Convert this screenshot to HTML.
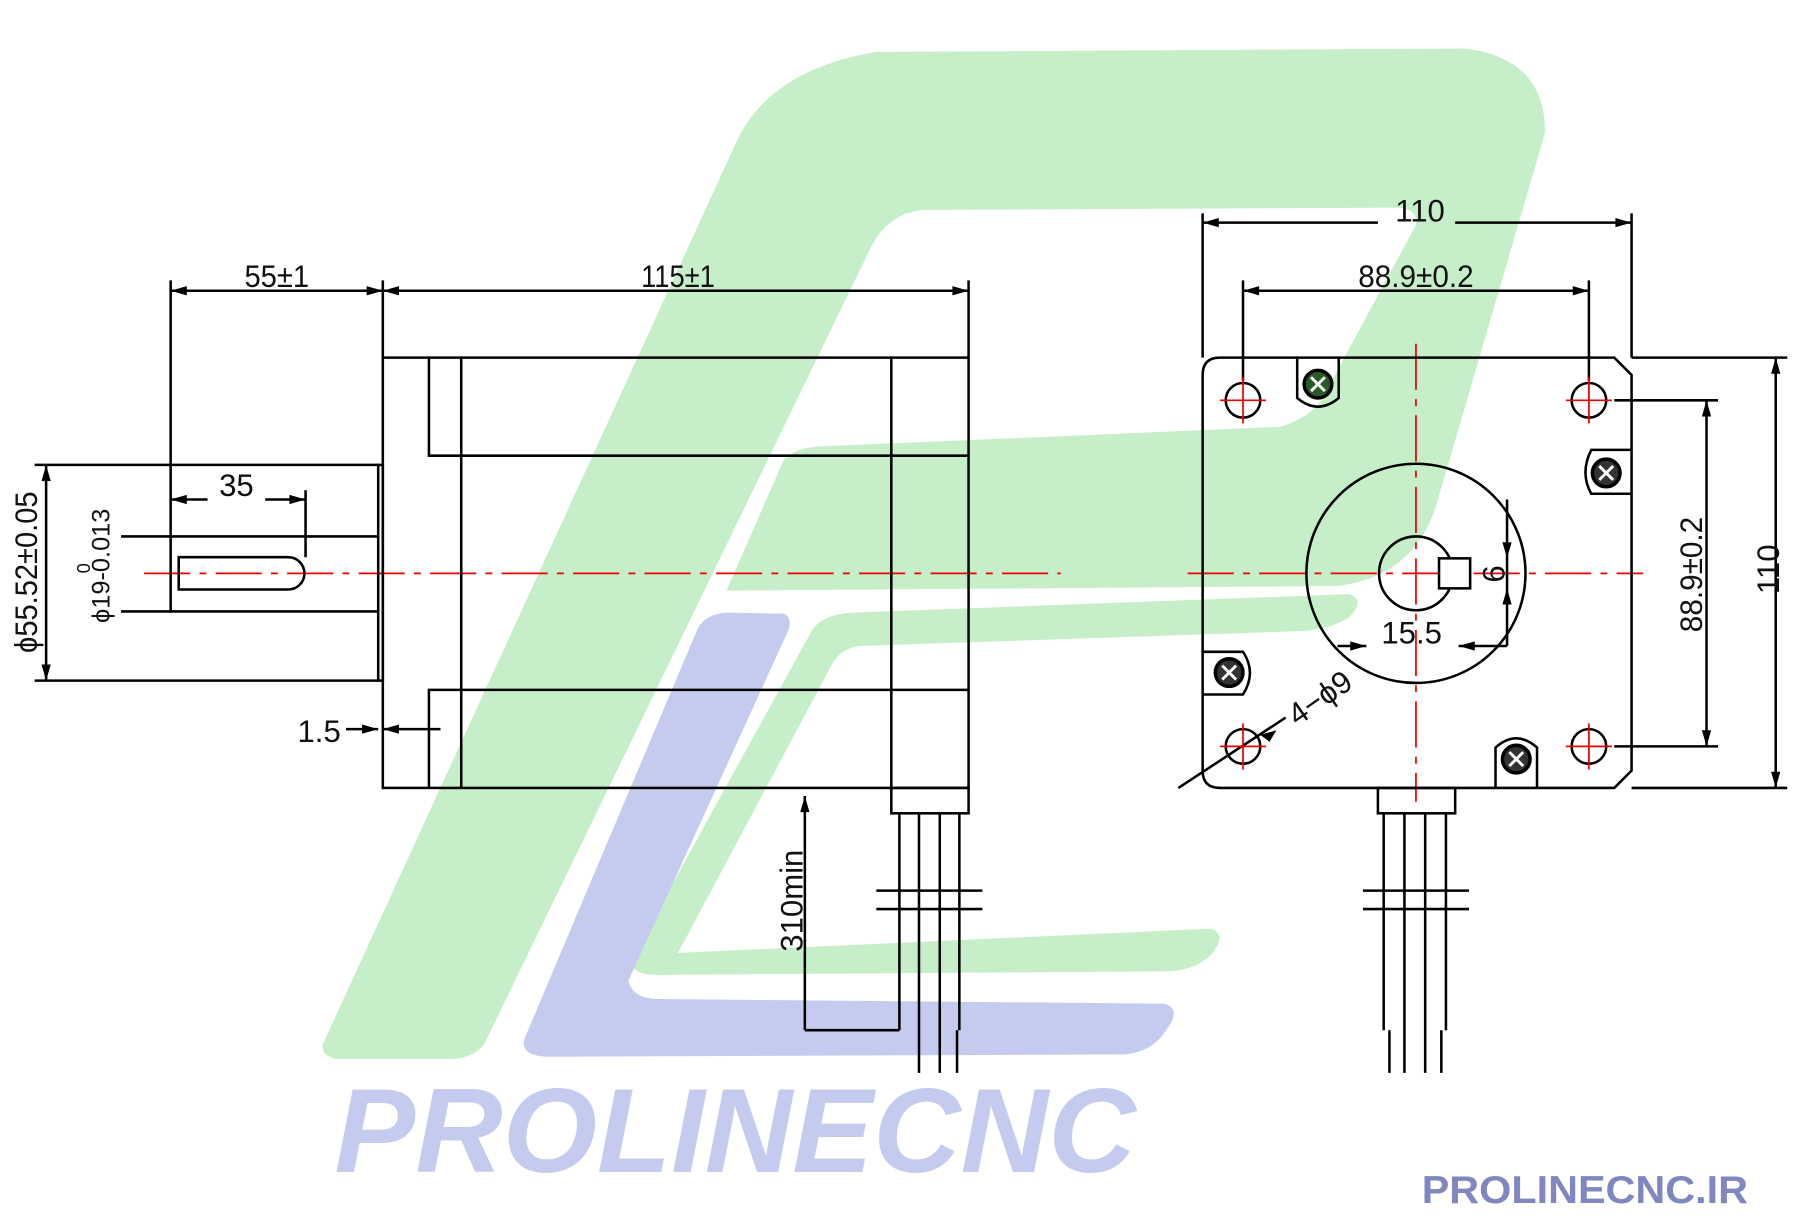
<!DOCTYPE html>
<html><head><meta charset="utf-8"><style>
html,body{margin:0;padding:0;background:#fff;}
svg{display:block;}
text{font-family:"Liberation Sans",sans-serif;}
</style></head><body>
<svg width="1808" height="1224" viewBox="0 0 1568 1061" preserveAspectRatio="none" xmlns="http://www.w3.org/2000/svg">
<rect width="1568" height="1061" fill="#fff"/>
<!-- logo green -->
<path fill="#c6efc9" d="M280 905 L640 120 Q670 60 760 45 L1270 42 Q1340 50 1340 115 L1245 440 Q1225 500 1160 508 L630 512 L680 398 Q690 388 710 387 L1110 370 Q1145 360 1155 330 L1228 195 Q1230 180 1210 180 L800 182 Q770 185 755 215 L420 905 Q410 918 390 918 L292 918 Q278 915 280 905 Z"/>
<path fill="#c6efc9" d="M548 830 L705 545 Q715 532 740 531 L1170 515 Q1185 520 1170 535 Q1155 545 1130 547 L745 560 Q730 562 722 575 L588 826 L1050 805 Q1065 810 1050 828 Q1035 842 1010 842 L570 845 Q545 845 548 830 Z"/>
<!-- logo blue -->
<path fill="#c5cbee" d="M455 900 L605 545 Q612 532 630 531 L680 532 Q688 536 683 548 L545 850 Q548 865 570 866 L1010 870 Q1025 875 1012 892 Q1000 912 975 914 L475 916 Q450 915 455 900 Z"/>
<text x="290" y="1016" font-size="104" font-weight="bold" font-style="italic" fill="#c5cbee" textLength="695" lengthAdjust="spacingAndGlyphs">PROLINECNC</text>
<text x="1233" y="1043" font-size="34" font-weight="bold" fill="#7f86c0" textLength="283" lengthAdjust="spacingAndGlyphs">PROLINECNC.IR</text>

<!-- red centerlines -->
<g stroke="#e00" stroke-width="1.5" stroke-dasharray="40,8,6,8" fill="none">
<line x1="125" y1="497" x2="920" y2="497"/>
<line x1="1030" y1="497" x2="1425" y2="497"/>
<line x1="1228" y1="298" x2="1228" y2="695"/>
</g>

<g stroke="#000" stroke-width="2.2" fill="none">
<!-- left view body -->
<rect x="332" y="310" width="508" height="373"/>
<polyline points="372,310 372,395 840,395"/>
<polyline points="372,683 372,598 840,598"/>
<line x1="400" y1="310" x2="400" y2="683"/>
<line x1="773" y1="310" x2="773" y2="683"/>
<rect x="328" y="403" width="4" height="187"/>
<!-- shaft -->
<polyline points="328,465 148,465 148,530 328,530"/>
<path d="M155 483 L250 483 A14 14 0 0 1 250 511 L155 511 Z"/>
<!-- dims left -->
<line x1="148" y1="243" x2="148" y2="465"/>
<line x1="332" y1="243" x2="332" y2="310"/>
<line x1="840" y1="243" x2="840" y2="310"/>
<line x1="148" y1="252" x2="332" y2="252"/>
<line x1="332" y1="252" x2="840" y2="252"/>
<line x1="265" y1="425" x2="265" y2="483"/>
<line x1="148" y1="433" x2="180" y2="433"/><line x1="230" y1="433" x2="265" y2="433"/>
<line x1="30" y1="403" x2="328" y2="403"/>
<line x1="30" y1="590" x2="328" y2="590"/>
<line x1="40" y1="403" x2="40" y2="590"/>
<line x1="105" y1="465" x2="148" y2="465"/>
<line x1="105" y1="530" x2="148" y2="530"/>
<line x1="300" y1="632" x2="328" y2="632"/><line x1="332" y1="632" x2="382" y2="632"/>
<!-- 310min -->
<line x1="698" y1="690" x2="698" y2="893"/>
<line x1="698" y1="893" x2="780" y2="893"/>
<!-- left cable -->
<rect x="773" y="683" width="67" height="22"/>
<line x1="780" y1="705" x2="780" y2="893"/>
<line x1="797" y1="705" x2="797" y2="930"/>
<line x1="815" y1="705" x2="815" y2="930"/>
<line x1="832" y1="705" x2="832" y2="893"/>
<line x1="830" y1="893" x2="830" y2="930"/>
<line x1="760" y1="772" x2="852" y2="772"/>
<line x1="760" y1="788" x2="852" y2="788"/>

<!-- right view -->
<path d="M1058 310 L1400 310 L1415 325 L1415 668 L1400 683 L1058 683 Q1043 683 1043 668 L1043 325 Q1043 310 1058 310 Z"/>
<line x1="1415" y1="310" x2="1550" y2="310"/>
<line x1="1415" y1="683" x2="1550" y2="683"/>
<line x1="1540" y1="310" x2="1540" y2="683"/>
<line x1="1400" y1="347" x2="1490" y2="347"/>
<line x1="1400" y1="647" x2="1490" y2="647"/>
<line x1="1480" y1="347" x2="1480" y2="647"/>
<line x1="1043" y1="185" x2="1043" y2="310"/>
<line x1="1415" y1="185" x2="1415" y2="310"/>
<line x1="1043" y1="193" x2="1195" y2="193"/><line x1="1262" y1="193" x2="1415" y2="193"/>
<line x1="1078" y1="243" x2="1078" y2="330"/>
<line x1="1378" y1="243" x2="1378" y2="330"/>
<line x1="1078" y1="252" x2="1378" y2="252"/>
<circle cx="1228" cy="497" r="95"/>
<circle cx="1228" cy="497" r="32"/>
<rect x="1248" y="484" width="27" height="26" fill="#fff"/>
<line x1="1307" y1="433" x2="1307" y2="560"/>
<line x1="1160" y1="560" x2="1185" y2="560"/><line x1="1265" y1="560" x2="1307" y2="560"/>
<line x1="1022" y1="683" x2="1115" y2="622"/>
<circle cx="1078" cy="347" r="15"/><circle cx="1378" cy="347" r="15"/>
<circle cx="1078" cy="647" r="15"/><circle cx="1378" cy="647" r="15"/>
<!-- screw mounts -->
<path d="M1125 310 L1125 345 Q1143 360 1161 345 L1161 310"/>
<path d="M1415 390 L1380 390 Q1370 410 1380 428 L1415 428"/>
<path d="M1043 565 L1078 565 Q1090 583 1078 602 L1043 602"/>
<path d="M1297 683 L1297 648 Q1315 632 1333 648 L1333 683"/>
<!-- right cable -->
<rect x="1195" y="683" width="67" height="22"/>
<line x1="1200" y1="705" x2="1200" y2="893"/>
<line x1="1218" y1="705" x2="1218" y2="930"/>
<line x1="1236" y1="705" x2="1236" y2="930"/>
<line x1="1254" y1="705" x2="1254" y2="893"/>
<line x1="1205" y1="893" x2="1205" y2="930"/>
<line x1="1250" y1="893" x2="1250" y2="930"/>
<line x1="1182" y1="772" x2="1274" y2="772"/>
<line x1="1182" y1="788" x2="1274" y2="788"/>
</g>
<!-- screws -->
<g stroke="#000" stroke-width="3">
<circle cx="1143" cy="333" r="12" fill="#2a5a2a"/>
<circle cx="1393" cy="410" r="12" fill="#333"/>
<circle cx="1066" cy="583" r="12" fill="#333"/>
<circle cx="1315" cy="658" r="12" fill="#333"/>
</g>
<g stroke="#fff" stroke-width="2.5">
<path d="M1137 327 L1149 339 M1149 327 L1137 339"/>
<path d="M1387 404 L1399 416 M1399 404 L1387 416"/>
<path d="M1060 577 L1072 589 M1072 577 L1060 589"/>
<path d="M1309 652 L1321 664 M1321 652 L1309 664"/>
</g>
<g stroke="#e00" stroke-width="1.5">
<path d="M1058 347 L1098 347 M1078 327 L1078 367 M1358 347 L1398 347 M1378 327 L1378 367 M1058 647 L1098 647 M1078 627 L1078 667 M1358 647 L1398 647 M1378 627 L1378 667"/>
</g>
<!-- arrowheads -->
<g fill="#000">
<path d="M148 252 l14 -4 v8z M332 252 l-14 -4 v8z M332 252 l14 -4 v8z M840 252 l-14 -4 v8z"/>
<path d="M148 433 l14 -4 v8z M265 433 l-14 -4 v8z"/>
<path d="M40 403 l-4 14 h8z M40 590 l-4 -14 h8z"/>
<path d="M328 632 l-14 -4 v8z M332 632 l14 -4 v8z"/>
<path d="M698 690 l-4 14 h8z"/>
<path d="M1043 193 l14 -4 v8z M1415 193 l-14 -4 v8z M1078 252 l14 -4 v8z M1378 252 l-14 -4 v8z"/>
<path d="M1540 310 l-4 14 h8z M1540 683 l-4 -14 h8z M1480 347 l-4 14 h8z M1480 647 l-4 -14 h8z"/>
<path d="M1307 484 l-4 -14 h8z M1307 510 l-4 14 h8z"/>
<path d="M1185 560 l-14 -4 v8z M1265 560 l14 -4 v8z"/>
<path d="M1093 637 l14 -4 l-6 10z"/>
</g>
<!-- labels -->
<g fill="#111" font-size="27">
<text x="212" y="249" textLength="56" lengthAdjust="spacingAndGlyphs">55±1</text>
<text x="556" y="249" textLength="64" lengthAdjust="spacingAndGlyphs">115±1</text>
<text x="190" y="430">35</text>
<text x="258" y="643">1.5</text>
<text x="1210" y="192">110</text>
<text x="1178" y="249" textLength="100" lengthAdjust="spacingAndGlyphs">88.9±0.2</text>
<text x="1198" y="558">15.5</text>
<text transform="translate(32,566) rotate(-90)" textLength="140" lengthAdjust="spacingAndGlyphs">ϕ55.52±0.05</text>
<text transform="translate(95,540) rotate(-90)" font-size="22">ϕ19-0.013</text>
<text transform="translate(78,497) rotate(-90)" font-size="16">0</text>
<text transform="translate(696,825) rotate(-90)">310min</text>
<text transform="translate(1305,505) rotate(-90)">6</text>
<text transform="translate(1476,548) rotate(-90)" textLength="100" lengthAdjust="spacingAndGlyphs">88.9±0.2</text>
<text transform="translate(1543,515) rotate(-90)">110</text>
<text transform="translate(1125,630) rotate(-35)">4−ϕ9</text>
</g>
</svg>
</body></html>
